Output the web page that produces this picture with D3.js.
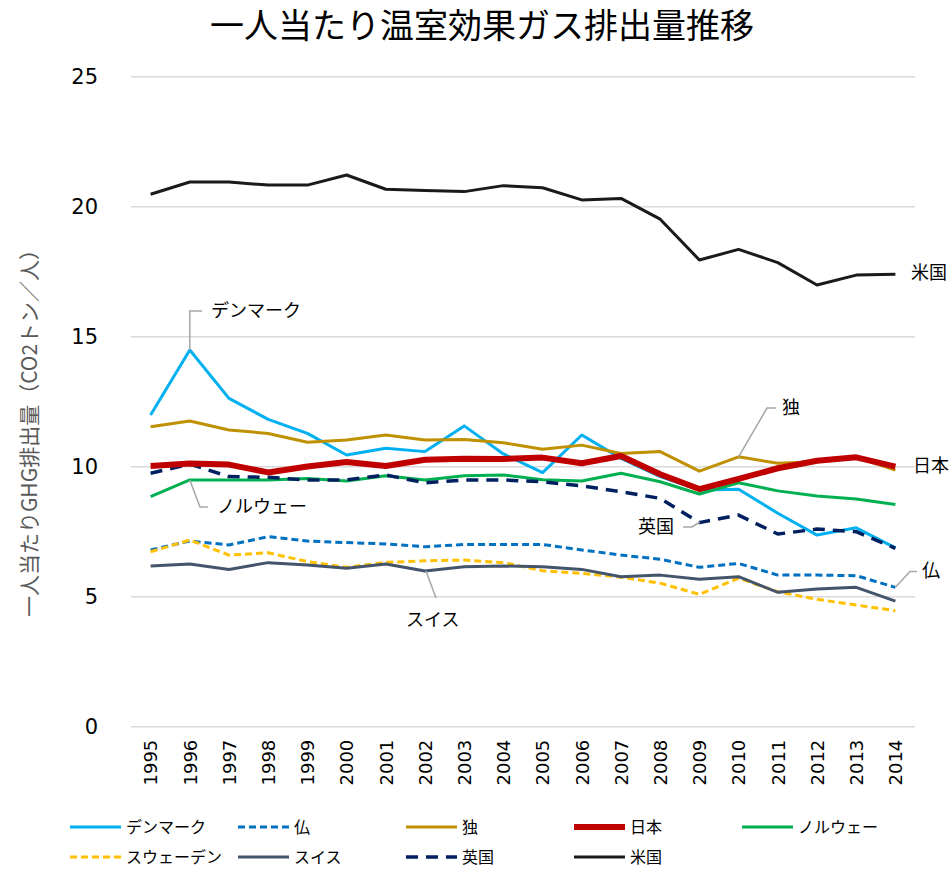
<!DOCTYPE html>
<html>
<head>
<meta charset="utf-8">
<script src="https://cdn.jsdelivr.net/npm/d3@7"></script>
<style>
  body { margin: 0; background: #fff; }
  text { font-family: "Noto Sans CJK JP", "DejaVu Sans", sans-serif; }
  .num { font-family: "DejaVu Sans", Verdana, sans-serif; }
</style>
</head>
<body>
<div id="chart"></div>
<script>
// data (t-CO2 per person)
var years = ["1995","1996","1997","1998","1999","2000","2001","2002","2003","2004",
             "2005","2006","2007","2008","2009","2010","2011","2012","2013","2014"];
var yTicks = [0, 5, 10, 15, 20, 25];

var denmark = [11.99,14.49,12.63,11.82,11.28,10.45,10.71,10.58,11.57,10.49,9.77,11.22,10.32,9.62,9.10,9.13,8.21,7.37,7.65,6.88];
var france  = [6.80,7.14,6.99,7.31,7.14,7.08,7.03,6.92,7.01,7.01,7.01,6.80,6.60,6.44,6.13,6.28,5.83,5.83,5.81,5.36];
var germany = [11.54,11.76,11.41,11.28,10.94,11.03,11.22,11.03,11.05,10.92,10.67,10.83,10.51,10.58,9.83,10.38,10.13,10.19,10.36,9.87];
var japan   = [10.03,10.12,10.08,9.78,10.01,10.18,10.03,10.27,10.31,10.30,10.35,10.13,10.41,9.71,9.14,9.53,9.94,10.23,10.36,10.00];
var norway  = [8.85,9.49,9.49,9.49,9.55,9.45,9.65,9.49,9.65,9.68,9.50,9.45,9.75,9.42,8.95,9.38,9.07,8.87,8.76,8.55];
var sweden  = [6.73,7.18,6.60,6.69,6.35,6.13,6.32,6.38,6.41,6.31,6.00,5.90,5.75,5.52,5.09,5.71,5.19,4.90,4.68,4.46];
var swiss   = [6.18,6.26,6.05,6.31,6.22,6.09,6.26,5.99,6.15,6.18,6.15,6.05,5.77,5.83,5.67,5.77,5.17,5.30,5.36,4.83];
var uk      = [9.75,10.10,9.62,9.59,9.49,9.49,9.68,9.38,9.49,9.49,9.42,9.26,9.04,8.78,7.85,8.14,7.41,7.60,7.50,6.86];
var usa     = [20.48,20.95,20.95,20.83,20.83,21.22,20.67,20.62,20.58,20.81,20.73,20.26,20.32,19.52,17.95,18.36,17.85,16.99,17.37,17.40];

var series = [
  {name: "デンマーク",   values: denmark, color: "#00B0F0", width: 3,   dash: null},
  {name: "仏",           values: france,  color: "#0070C0", width: 3,   dash: "7,4"},
  {name: "独",           values: germany, color: "#BF9000", width: 3,   dash: null},
  {name: "日本",         values: japan,   color: "#C00000", width: 6,   dash: null},
  {name: "ノルウェー",   values: norway,  color: "#00B050", width: 3,   dash: null},
  {name: "スウェーデン", values: sweden,  color: "#FFC000", width: 3,   dash: "7,4"},
  {name: "スイス",       values: swiss,   color: "#44546A", width: 3,   dash: null},
  {name: "英国",         values: uk,      color: "#002060", width: 3.5, dash: "12,8"},
  {name: "米国",         values: usa,     color: "#1A1A1A", width: 3,   dash: null}
];

var width = 952, height = 870;
var plot = {left: 131, right: 915, top: 76.7, bottom: 726.7};

var svg = d3.select("#chart").append("svg")
    .attr("width", width)
    .attr("height", height);

var x = d3.scalePoint()
    .domain(years)
    .range([plot.left, plot.right])
    .padding(0.5);

var y = d3.scaleLinear()
    .domain([0, 25])
    .range([plot.bottom, plot.top]);

// title
svg.append("text")
    .attr("x", 482).attr("y", 38)
    .attr("text-anchor", "middle")
    .attr("font-size", 34)
    .attr("fill", "#000")
    .text("一人当たり温室効果ガス排出量推移");

// gridlines
svg.append("g").selectAll("line")
    .data(yTicks)
    .enter().append("line")
    .attr("x1", plot.left).attr("x2", plot.right)
    .attr("y1", function(d) { return y(d); })
    .attr("y2", function(d) { return y(d); })
    .attr("stroke", "#D9D9D9")
    .attr("stroke-width", 1.5);

// y axis
var yAxis = svg.append("g")
    .attr("transform", "translate(" + plot.left + ",0)")
    .call(d3.axisLeft(y).tickValues(yTicks).tickSize(0).tickPadding(33));
yAxis.select(".domain").remove();
yAxis.selectAll("text")
    .attr("class", "num")
    .attr("font-size", 21)
    .attr("fill", "#000");

// x axis, vertical labels
var xAxis = svg.append("g")
    .attr("transform", "translate(0," + plot.bottom + ")")
    .call(d3.axisBottom(x).tickSize(0));
xAxis.select(".domain").remove();
xAxis.selectAll("text")
    .attr("class", "num")
    .attr("font-size", 18)
    .attr("fill", "#000")
    .attr("transform", "rotate(-90)")
    .attr("text-anchor", "end")
    .attr("x", -13)
    .attr("y", 0)
    .attr("dy", "0.35em");

// y axis title
svg.append("text")
    .attr("transform", "translate(37,428) rotate(-90)")
    .attr("text-anchor", "middle")
    .attr("font-size", 21)
    .attr("fill", "#595959")
    .text("一人当たりGHG排出量（CO2トン／人）");

var line = d3.line()
    .x(function(d, i) { return x(years[i]); })
    .y(function(d) { return y(d); });

// Japan drawn last so it sits on top like the original
var drawOrder = series.filter(function(s) { return s.name !== "日本"; })
    .concat(series.filter(function(s) { return s.name === "日本"; }));

svg.append("g").selectAll("path")
    .data(drawOrder)
    .enter().append("path")
    .attr("d", function(s) { return line(s.values); })
    .attr("fill", "none")
    .attr("stroke", function(s) { return s.color; })
    .attr("stroke-width", function(s) { return s.width; })
    .attr("stroke-dasharray", function(s) { return s.dash; })
    .attr("stroke-linejoin", "round");

// callout labels
function px(year) { return x(year); }
var callouts = [
  {text: "デンマーク", tx: 211, ty: 311,
   pts: [[px("1996"), y(denmark[1])], [px("1996"), 311], [202, 311]]},
  {text: "独", tx: 782, ty: 408,
   pts: [[px("2010"), y(germany[15])], [767, 408], [776, 408]]},
  {text: "英国", tx: 638, ty: 527,
   pts: [[700, 522], [692, 527], [683, 527]]},
  {text: "仏", tx: 922, ty: 571,
   pts: [[px("2014"), y(france[19])], [910, 571.5], [917, 571.5]]},
  {text: "ノルウェー", tx: 217, ty: 507,
   pts: [[px("1996"), y(norway[1])], [200, 507], [208, 507]]},
  {text: "スイス", tx: 406, ty: 620,
   pts: [[426, 571], [436, 598]]},
  {text: "米国", tx: 911, ty: 273, pts: null},
  {text: "日本", tx: 913, ty: 466, pts: null}
];

var co = svg.append("g");
callouts.forEach(function(c) {
  if (c.pts) {
    co.append("path")
      .attr("d", d3.line()(c.pts))
      .attr("fill", "none")
      .attr("stroke", "#A6A6A6")
      .attr("stroke-width", 1.5);
  }
  co.append("text")
    .attr("x", c.tx).attr("y", c.ty)
    .attr("dy", "0.35em")
    .attr("font-size", 18)
    .attr("fill", "#000")
    .text(c.text);
});

// legend, 5 per row
var legend = svg.append("g");
series.forEach(function(s, i) {
  var col = i % 5, row = Math.floor(i / 5);
  var lx = 70 + col * 168, ly = 827 + row * 30;
  legend.append("line")
    .attr("x1", lx).attr("x2", lx + 51)
    .attr("y1", ly).attr("y2", ly)
    .attr("stroke", s.color)
    .attr("stroke-width", s.width)
    .attr("stroke-dasharray", s.dash);
  legend.append("text")
    .attr("x", lx + 56).attr("y", ly)
    .attr("dy", "0.35em")
    .attr("font-size", 16)
    .attr("fill", "#000")
    .text(s.name);
});
</script>
</body>
</html>
